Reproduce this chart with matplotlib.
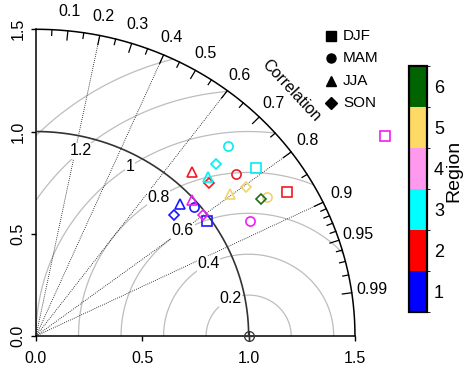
import numpy as np
import matplotlib
matplotlib.use("Agg")
import matplotlib as mpl
import matplotlib.pyplot as plt
from matplotlib.colors import ListedColormap, BoundaryNorm

plt.rcParams["font.family"] = ["Liberation Sans", "DejaVu Sans"]

# seasons (legend) and their markers
seasons = ["DJF", "MAM", "JJA", "SON"]
season_markers = ["s", "o", "^", "D"]

# regions (colour bar)
regions = [1, 2, 3, 4, 5, 6]
marker_colors = ["#1a1aff", "#ee1c25", "#00f0f0", "#f020f0", "#f2d36a", "#1e6b1e"]
cbar_colors = ["#0000ff", "#ff0000", "#00ffff", "#ff99ee", "#ffd966", "#006400"]

# normalised standard deviation and correlation, season order DJF, MAM, JJA, SON
std_r1 = [0.981, 0.976, 0.936, 0.881]
corr_r1 = [0.821, 0.763, 0.724, 0.739]
std_r2 = [1.374, 1.231, 1.087, 1.107]
corr_r2 = [0.859, 0.765, 0.674, 0.735]
std_r3 = [1.322, 1.296, 1.123, 1.193]
corr_r3 = [0.783, 0.696, 0.722, 0.710]
std_r4 = [1.912, 1.153, 0.990, 0.982]
corr_r4 = [0.859, 0.872, 0.740, 0.798]
std_r5 = [np.nan, 1.282, 1.145, 1.226]
corr_r5 = [np.nan, 0.849, 0.796, 0.805]
std_r6 = [np.nan, np.nan, np.nan, 1.252]
corr_r6 = [np.nan, np.nan, np.nan, 0.846]

std_all = [std_r1, std_r2, std_r3, std_r4, std_r5, std_r6]
corr_all = [corr_r1, corr_r2, corr_r3, corr_r4, corr_r5, corr_r6]

# diagram furniture
std_max = 1.5
corr_major = [0.1, 0.2, 0.3, 0.4, 0.5, 0.6, 0.7, 0.8, 0.9, 0.95, 0.99]
corr_minor = [0.05, 0.15, 0.25, 0.35, 0.45, 0.55, 0.65, 0.75, 0.85,
              0.91, 0.92, 0.93, 0.94, 0.96, 0.97, 0.98]
corr_rays = [0.2, 0.4, 0.6, 0.8, 0.9]
rms_levels = [0.2, 0.4, 0.6, 0.8, 1.0, 1.2, 1.4]
rms_labels = ["0.2", "0.4", "0.6", "0.8", "1", "1.2"]
rms_label_angles = [115, 118, 121, 122, 124, 131]

fig = plt.figure(figsize=(4.65, 3.67), dpi=100)
ax = fig.add_axes([0.0774, 0.0845, 0.686, 0.8357])
ax.set_xlim(0, std_max)
ax.set_ylim(0, std_max)
for s in ["top", "right"]:
    ax.spines[s].set_visible(False)
for s in ["left", "bottom"]:
    ax.spines[s].set_linewidth(1.1)
ax.set_xticks([0, 0.5, 1.0, 1.5])
ax.set_yticks([0, 0.5, 1.0, 1.5])
ax.set_xticklabels(["0.0", "0.5", "1.0", "1.5"])
ax.set_yticklabels(["0.0", "0.5", "1.0", "1.5"], rotation=90, va="center")
ax.tick_params(axis="both", labelsize=11.5, length=3.5, width=1.0)
ax.tick_params(axis="x", pad=7)
ax.tick_params(axis="y", pad=4)

# centred RMS difference arcs around the reference point
th = np.linspace(0, np.pi, 600)
for r in rms_levels:
    x = 1.0 + r * np.cos(th)
    y = r * np.sin(th)
    bad = (x ** 2 + y ** 2 > std_max ** 2) | (x < 0)
    x = np.where(bad, np.nan, x)
    y = np.where(bad, np.nan, y)
    ax.plot(x, y, color="#bdbdbd", lw=0.9, zorder=1)

for lab, ang, r in zip(rms_labels, rms_label_angles, rms_levels):
    a = np.deg2rad(ang)
    ax.text(1.0 + r * np.cos(a), r * np.sin(a), lab, fontsize=11.5,
            ha="center", va="center", zorder=3,
            bbox=dict(facecolor="white", edgecolor="none", pad=0.3))

# correlation rays
for c in corr_rays:
    a = np.arccos(c)
    ax.plot([0, std_max * np.cos(a)], [0, std_max * np.sin(a)],
            color="black", lw=0.6, ls=(0, (1, 1.5)), zorder=2)

# std arcs
q = np.linspace(0, np.pi / 2, 300)
ax.plot(std_max * np.cos(q), std_max * np.sin(q), color="black", lw=1.1,
        clip_on=False, zorder=4)
ax.plot(np.cos(q), np.sin(q), color="#333333", lw=1.2, zorder=4)

# correlation ticks on the outer arc
for c in corr_major + corr_minor:
    a = np.arccos(c)
    ln = 0.045 if c in corr_major else 0.028
    ax.plot([std_max * np.cos(a), (std_max - ln) * np.cos(a)],
            [std_max * np.sin(a), (std_max - ln) * np.sin(a)],
            color="black", lw=0.9, clip_on=False, zorder=4)
for c in corr_major:
    a = np.arccos(c)
    ax.text(1.595 * np.cos(a), 1.595 * np.sin(a), f"{c:g}", fontsize=11.5,
            ha="center", va="center", clip_on=False)
ax.text(1.70 * np.cos(np.deg2rad(45)), 1.70 * np.sin(np.deg2rad(45)), "Correlation",
        fontsize=11.5, rotation=-47, ha="center", va="center", rotation_mode="anchor")

# reference point
ax.plot(1.0, 0.0, marker="o", ms=7, mfc="none", mec="#333333", mew=0.9, clip_on=False, zorder=5)
ax.plot(1.0, 0.0, marker="+", ms=7, mec="#333333", mew=0.9, clip_on=False, zorder=5)

# data points
for k, reg in enumerate(regions):
    for j, mk in enumerate(season_markers):
        s = std_all[k][j]
        c = corr_all[k][j]
        if np.isnan(s):
            continue
        a = np.arccos(c)
        ms = 5.6 if mk == "D" else 6.6
        ax.plot(s * np.cos(a), s * np.sin(a), marker=mk, ms=ms, mfc="none",
                mec=marker_colors[k], mew=1.2, clip_on=False, zorder=6)

# season legend
for j, (lab, mk) in enumerate(zip(seasons, season_markers)):
    yy = 0.977 - j * 0.072
    ax.plot(0.925, yy, marker=mk, ms=6.5 if mk != "D" else 5.8, color="black",
            transform=ax.transAxes, clip_on=False)
    ax.text(0.962, yy, lab, fontsize=11, va="center", ha="left", transform=ax.transAxes)

# region colour bar
cax = fig.add_axes([0.8796, 0.1499, 0.0387, 0.670])
cmap = ListedColormap(cbar_colors)
norm = BoundaryNorm(np.arange(0.5, 7.5, 1), cmap.N)
cb = mpl.colorbar.ColorbarBase(cax, cmap=cmap, norm=norm, ticks=regions)
cb.outline.set_linewidth(1.6)
cax.tick_params(length=0, labelsize=13, pad=5)
fig.text(0.995, 0.535, "Region", rotation=90, fontsize=14, ha="right", va="center")

fig.savefig("out.png", dpi=100)
